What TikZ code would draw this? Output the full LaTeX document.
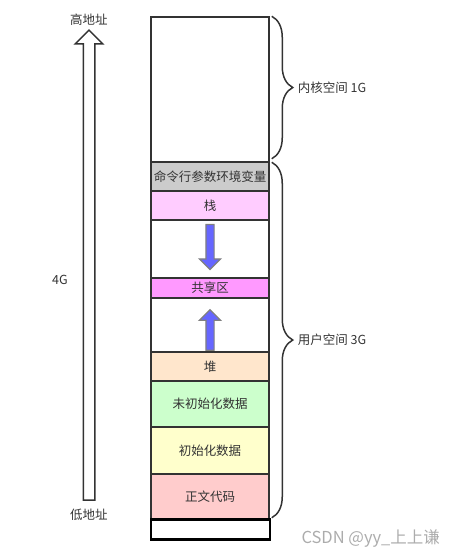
\documentclass[tikz,border=0pt]{standalone}
\usepackage{fontspec}
\setmainfont{Noto Sans CJK SC}
\usetikzlibrary{shapes.arrows,decorations.pathreplacing}
\definecolor{edge}{HTML}{333333}
\definecolor{argsgray}{HTML}{CCCCCC}
\definecolor{stackpink}{HTML}{FFCCFF}
\definecolor{sharedpink}{HTML}{FF99FF}
\definecolor{heaporange}{HTML}{FFE6CC}
\definecolor{bssgreen}{HTML}{CCFFCC}
\definecolor{datayellow}{HTML}{FFFFCC}
\definecolor{textred}{HTML}{FFCCCC}
\definecolor{growblue}{HTML}{6666FF}
\begin{document}
\begin{tikzpicture}[x=1pt,y=-1pt,
    every node/.style={text=edge,font=\fontsize{12.5}{15}\selectfont},
    seg/.style={draw=edge,line width=1.5pt,minimum width=118pt,inner sep=0pt},
    grow/.style={single arrow,draw=gray,fill=growblue,line width=1.2pt,inner xsep=0pt,inner ysep=3.5pt,single arrow head extend=6.5pt,minimum height=#1},
    bracket/.style={decorate,decoration={brace,amplitude=21pt},draw=edge,line width=1.5pt}]
  \useasboundingbox (0,0) rectangle (459,558);
  \node[seg,minimum height=145pt] (kernel) at (210,89.5) {};
  \node[seg,fill=argsgray,minimum height=29pt] (args) at (210,176.5) {命令行参数环境变量};
  \node[seg,fill=stackpink,minimum height=29pt] (stack) at (210,205.5) {栈};
  \node[seg,minimum height=58pt] (gapa) at (210,249) {};
  \node[seg,fill=sharedpink,minimum height=20pt] (shared) at (210,288) {共享区};
  \node[seg,minimum height=54pt] (gapb) at (210,325) {};
  \node[seg,fill=heaporange,minimum height=29pt] (heap) at (210,366.5) {堆};
  \node[seg,fill=bssgreen,minimum height=46pt] (bss) at (210,404) {未初始化数据};
  \node[seg,fill=datayellow,minimum height=47pt] (data) at (210,450.5) {初始化数据};
  \node[seg,fill=textred,minimum height=45pt] (code) at (210,496.5) {正文代码};
  \node[seg,draw=black,line width=2.5pt,minimum width=119pt,minimum height=20pt] (base) at (210.5,529.5) {};
  \node[grow=45pt,rotate=-90] (down) at (210,245) {};
  \node[grow=40.5pt,rotate=90] (up) at (210,332) {};
  \node[single arrow,draw=edge,line width=1.5pt,inner xsep=0pt,inner ysep=5pt,single arrow head extend=8pt,minimum height=470pt,rotate=90] (addr) at (89,268) {};
  \node (high) at (89,20) {高地址};
  \node (low) at (89,515) {低地址};
  \node (total) at (60,280) {4G};
  \draw[bracket] ([xshift=2pt,yshift=0pt]kernel.north east) -- ([xshift=2pt,yshift=4pt]kernel.south east)
    node[midway,anchor=west,xshift=22pt] (kernellabel) {内核空间 1G};
  \draw[bracket] ([xshift=2pt,yshift=-1pt]args.north east) -- ([xshift=2pt,yshift=2pt]code.south east)
    node[midway,anchor=west,xshift=22pt] (userlabel) {用户空间 3G};
  \node[anchor=west,text=gray!65,font=\fontsize{16.5}{19}\selectfont] (csdn) at (298,539) {CSDN @yy\_上上谦};
\end{tikzpicture}
\end{document}
